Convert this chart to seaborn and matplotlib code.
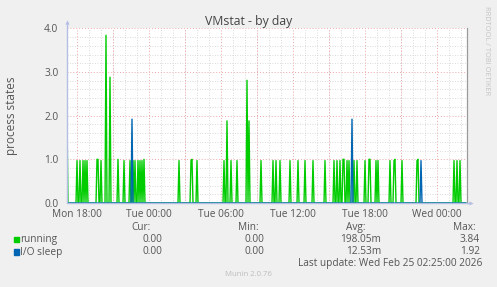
import numpy as np
import pandas as pd
import matplotlib
matplotlib.use("Agg")
import matplotlib.pyplot as plt
from matplotlib.patches import Rectangle
from matplotlib.ticker import MultipleLocator, FixedLocator, FuncFormatter
import seaborn as sns

# ---------------- data (5-minute samples) ----------------
start_hour = 17 + 10 / 60.0          # first sample: Mon 17:10 (hours since Mon 00:00)
step_hours = 5 / 60.0
n_samples = 400

running_idx = [0, 10, 13, 16, 18, 20, 30, 31, 34, 39, 43, 51, 57, 63, 66, 68, 71,
               73, 75, 77, 112, 124, 125, 130, 157, 160, 164, 170, 180, 182, 194,
               206, 209, 213, 223, 231, 238, 246, 258, 267, 270, 273, 276, 277,
               280, 282, 287, 290, 298, 302, 303, 309, 311, 323, 327, 328, 335,
               350, 351, 387, 390, 393]
running_val = [1.92, 0.97, 0.97, 0.97, 0.97, 0.97, 1.0, 1.0, 0.97, 3.84, 2.88, 1.0,
               0.97, 0.97, 0.97, 0.97, 0.97, 0.97, 0.97, 1.0, 0.97, 0.97, 1.0, 0.97,
               0.97, 1.88, 0.97, 0.97, 2.81, 1.88, 0.97, 0.97, 0.97, 0.97, 0.97,
               0.97, 0.97, 0.97, 0.97, 0.97, 0.97, 0.97, 1.0, 1.0, 0.97, 0.97, 0.97,
               0.97, 0.97, 1.0, 1.0, 0.97, 0.97, 0.97, 0.97, 1.0, 0.97, 0.97, 1.0,
               0.97, 0.97, 0.97]

iosleep_idx = [65, 285, 354]
iosleep_val = [1.92, 1.92, 0.97]

series_names = ["running", "I/O sleep"]
series_colors = ["#00CC00", "#0066B3"]
legend_cur = ["0.00", "0.00"]
legend_min = ["0.00", "0.00"]
legend_avg = ["198.05m", "12.53m"]
legend_max = ["3.84", "1.92"]

tick_hours = [18, 24, 30, 36, 42, 48]
tick_labels = ["Mon 18:00", "Tue 00:00", "Tue 06:00", "Tue 12:00", "Tue 18:00", "Wed 00:00"]
y_ticks = [0.0, 1.0, 2.0, 3.0, 4.0]

title = "VMstat - by day"
ylabel = "process states"
last_update = "Last update: Wed Feb 25 02:25:00 2026"
footer = "Munin 2.0.76"
side_text = "RRDTOOL / TOBI OETIKER"

# ---------------- build frame ----------------
hours = start_hour + np.arange(n_samples) * step_hours
running = np.zeros(n_samples)
running[running_idx] = running_val
iosleep = np.zeros(n_samples)
iosleep[iosleep_idx] = iosleep_val
df = pd.DataFrame({"hour": hours, "running": running, "I/O sleep": iosleep})

# ---------------- style ----------------
sns.set_style("white")
plt.rcParams["font.family"] = ["Open Sans", "DejaVu Sans"]

W, H = 497, 287
fig = plt.figure(figsize=(W / 100, H / 100), dpi=100, facecolor="#F0F0F0")
ax_l, ax_r, ax_t, ax_b = 66.7, 466.7, 28.3, 203.0
ax = fig.add_axes([ax_l / W, 1 - ax_b / H, (ax_r - ax_l) / W, (ax_b - ax_t) / H])
ax.set_facecolor("white")

def px(x, y):
    return x / W, 1 - y / H

txt = "#555555"

# data
sns.lineplot(data=df, x="hour", y="running", ax=ax, color=series_colors[0],
             linewidth=1.0, zorder=3)
sns.lineplot(data=df, x="hour", y="I/O sleep", ax=ax, color=series_colors[1],
             linewidth=1.0, zorder=3.1)

x0 = start_hour - 0.3 * step_hours
x1 = x0 + 400 * step_hours
ax.set_xlim(x0, x1)
ax.set_ylim(0, 4.0)

# grids
ax.xaxis.set_major_locator(FixedLocator(tick_hours))
ax.xaxis.set_major_formatter(FuncFormatter(lambda v, p: tick_labels[tick_hours.index(int(round(v)))] if int(round(v)) in tick_hours else ""))
ax.yaxis.set_major_locator(FixedLocator(y_ticks))
ax.yaxis.set_major_formatter(FuncFormatter(lambda v, p: f"{v:.1f}"))
ax.yaxis.set_minor_locator(MultipleLocator(0.2))
ax.xaxis.set_minor_locator(MultipleLocator(1.0))

dot = (0, (1, 2))
for h in np.arange(18, 51, 3):
    ax.axvline(h, color="#EDA8A8", lw=0.7, ls=dot, zorder=1.5)
for yv in y_ticks:
    ax.axhline(yv, color="#EDA8A8", lw=0.7, ls=dot, zorder=1.5)
ax.grid(which="minor", color="#CFCFCF", lw=0.6, ls=dot, zorder=1)
ax.set_axisbelow(True)

ax.tick_params(axis="both", which="both", length=0, colors=txt, labelsize=7.3)
ax.tick_params(axis="x", pad=4)
ax.tick_params(axis="y", pad=6)
for lab in ax.get_xticklabels() + ax.get_yticklabels():
    lab.set_color(txt)

ax.set_xlabel("")
ax.set_ylabel("")

# spines
ax.spines["top"].set_visible(False)
ax.spines["right"].set_color("#9A9A9A")
ax.spines["right"].set_linewidth(0.9)
axis_col = "#B4BEE4"
ax.spines["left"].set_visible(False)
ax.spines["bottom"].set_visible(False)
ax.plot([0, 0], [0, 1 + 5 / 175], transform=ax.transAxes, color=axis_col, lw=1.0,
        clip_on=False, zorder=5)
ax.plot([0, 1 + 3 / 400], [0, 0], transform=ax.transAxes, color=axis_col, lw=1.0,
        clip_on=False, zorder=5)
ax.plot([0], [1 + 6 / 175], marker="^", ms=3, color=axis_col, transform=ax.transAxes,
        clip_on=False, zorder=5, mec="none")
ax.plot([1 + 4 / 400], [0], marker=">", ms=3, color=axis_col, transform=ax.transAxes,
        clip_on=False, zorder=5, mec="none")

# titles
fig.text(*px(249, 21), title, ha="center", va="center", fontsize=8.8, color="#444444")
fig.text(*px(12, 115.5), ylabel, ha="center", va="center", rotation=90,
         fontsize=8.5, color=txt)
fig.text(*px(486.5, 51), side_text, ha="center", va="center", rotation=270,
         fontsize=5.3, color="#C4C4C4")

# legend
fs = 7.3
hdr_y = 227.5
for label, xr in zip(["Cur:", "Min:", "Avg:", "Max:"], [151, 259, 366, 476]):
    fig.text(*px(xr, hdr_y), label, ha="right", va="center", fontsize=fs, color=txt)

row_y = [239.7, 252.0]
for i, name in enumerate(series_names):
    y = row_y[i]
    fig.patches.append(Rectangle(px(14, y + 2.6), 5.2 / W, 5.2 / H,
                                 transform=fig.transFigure, color=series_colors[i],
                                 figure=fig))
    fig.text(*px(20.2, y), name, ha="left", va="center", fontsize=fs, color=txt)
    fig.text(*px(162.5, y), legend_cur[i], ha="right", va="center", fontsize=fs, color=txt)
    fig.text(*px(264.5, y), legend_min[i], ha="right", va="center", fontsize=fs, color=txt)
    fig.text(*px(381, y), legend_avg[i], ha="right", va="center", fontsize=fs, color=txt)
    fig.text(*px(480, y), legend_max[i], ha="right", va="center", fontsize=fs, color=txt)

fig.text(*px(482, 263.5), last_update, ha="right", va="center", fontsize=fs, color=txt)
fig.text(*px(248, 274.7), footer, ha="center", va="center", fontsize=5.6, color="#BDBDBD")

fig.savefig("out.png", dpi=100, facecolor=fig.get_facecolor())
